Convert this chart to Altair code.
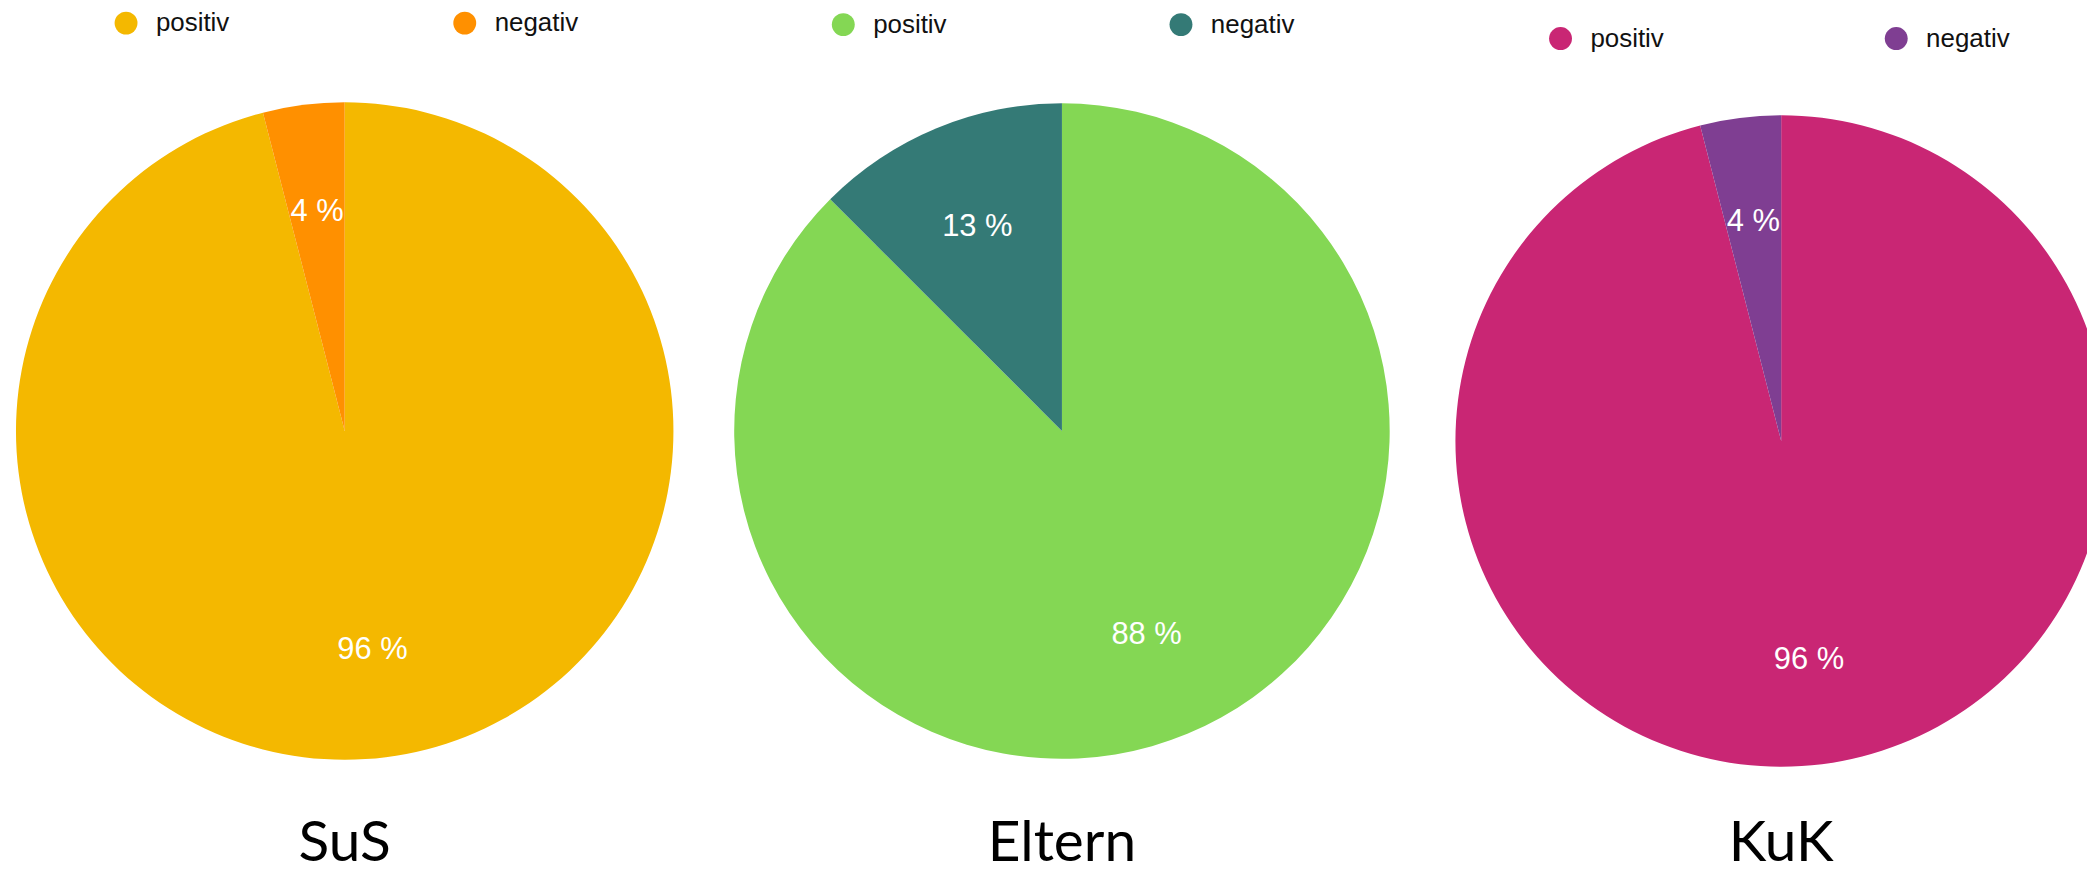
import altair as alt
import pandas as pd

# ---- data ----
groups = ["SuS", "Eltern", "KuK"]
categories = ["positiv", "negativ"]
sus_values = [96, 4]
eltern_values = [87.5, 12.5]
kuk_values = [96, 4]

sus_colors = ["#F4B800", "#FF9000"]
eltern_colors = ["#84D754", "#347A76"]
kuk_colors = ["#C92674", "#7F3E92"]

# layout (chart coordinates)
W, H = 2087, 864


def pie(group, values, colors, cx, cy, r, lx, ly, colpad):
    df = pd.DataFrame({
        "group": group,
        "kategorie": categories,
        "wert": values,
        "idx": list(range(len(categories))),
    })
    base = alt.Chart(df).transform_calculate(
        label="round(datum.wert) + ' %'"
    ).encode(
        theta=alt.Theta("wert:Q", stack=True),
        order=alt.Order("idx:Q"),
    )
    arcs = base.mark_arc(stroke=None).encode(
        x=alt.value(cx),
        y=alt.value(cy),
        radius=alt.value(r),
        color=alt.Color(
            "kategorie:N",
            scale=alt.Scale(domain=categories, range=colors),
            legend=alt.Legend(
                title=None,
                orient="none",
                legendX=lx,
                legendY=ly,
                direction="horizontal",
                columns=2,
                columnPadding=colpad,
                symbolType="circle",
                symbolSize=529,
                symbolStrokeWidth=0,
                symbolOpacity=1,
                labelFont="Liberation Sans, Arial",
                labelFontSize=26,
                labelColor="#111111",
                labelOffset=17,
                padding=0,
            ),
        ),
    )
    labels = base.mark_text(
        font="Liberation Sans, Arial",
        fontSize=31,
        color="white",
        align="center",
        baseline="middle",
    ).encode(
        x=alt.value(cx),
        y=alt.value(cy),
        radius=alt.value(222),
        text=alt.Text("label:N"),
    )
    title = alt.Chart(df.head(1)).mark_text(
        font="Lato, Open Sans, sans-serif",
        fontSize=57,
        color="#000000",
        align="center",
        baseline="alphabetic",
    ).encode(
        x=alt.value(cx),
        y=alt.value(855),
        text=alt.Text("group:N"),
    )
    return alt.layer(arcs, labels, title)


p1 = pie(groups[0], sus_values, sus_colors, 338, 423, 330, 105.5, 0.5, 223)
p2 = pie(groups[1], eltern_values, eltern_colors, 1058, 423, 329, 825.5, 2, 222)
p3 = pie(groups[2], kuk_values, kuk_colors, 1780, 433, 327, 1545.5, 16, 220)

chart = alt.layer(p1, p2, p3).resolve_scale(
    color="independent", theta="independent"
).properties(
    width=W,
    height=H,
    autosize=alt.AutoSizeParams(type="none"),
    padding=0,
).configure_view(stroke=None)

chart.save("out.html", embed_options={"renderer": "svg", "actions": False})
